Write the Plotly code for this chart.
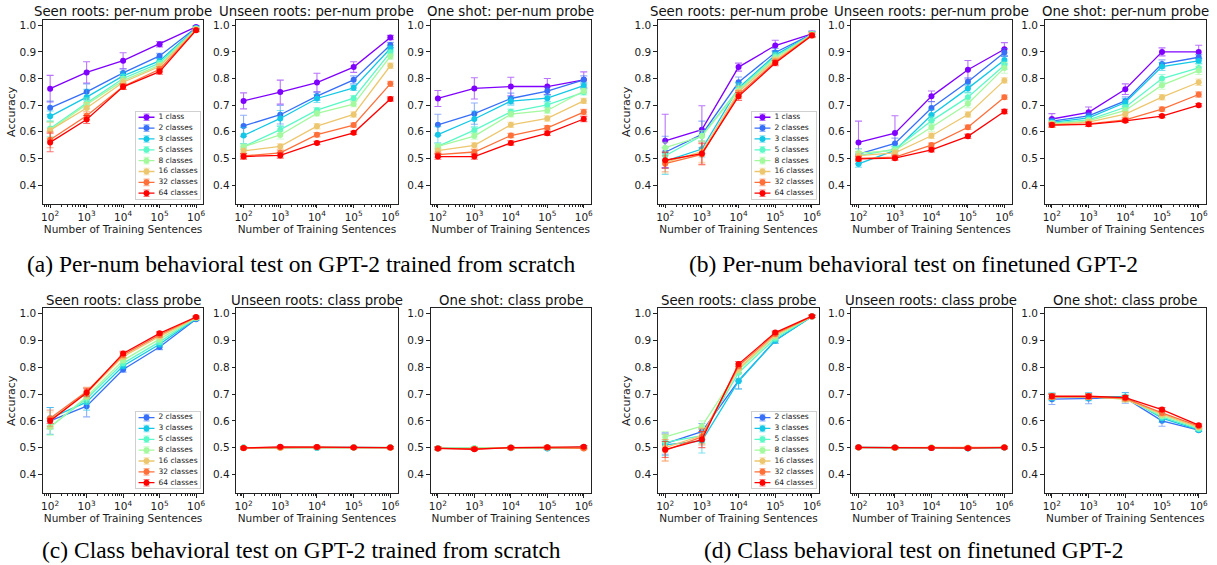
import plotly.graph_objects as go

W, H = 1217, 565

# ---------------- data ----------------
x_sent = [1e2, 1e3, 1e4, 1e5, 1e6]
xtick_text = ["10<sup>2</sup>", "10<sup>3</sup>", "10<sup>4</sup>", "10<sup>5</sup>", "10<sup>6</sup>"]
ytick_vals = [0.4, 0.5, 0.6, 0.7, 0.8, 0.9, 1.0]

labels_pernum = ["1 class", "2 classes", "3 classes", "5 classes", "8 classes",
                 "16 classes", "32 classes", "64 classes"]
labels_class = labels_pernum[1:]

# matplotlib "rainbow" colormap sampled at 8 points
colors_pernum = ["#8000ff", "#376ff9", "#12c8e6", "#5bf9c7", "#a4f99f",
                 "#edc76f", "#ff6f39", "#ff0000"]
colors_class = colors_pernum[1:]

titles_pernum = ["Seen roots: per-num probe", "Unseen roots: per-num probe", "One shot: per-num probe"]
titles_class = ["Seen roots: class probe", "Unseen roots: class probe", "One shot: class probe"]

captions = ["(a) Per-num behavioral test on GPT-2 trained from scratch",
            "(b) Per-num behavioral test on finetuned GPT-2",
            "(c) Class behavioral test on GPT-2 trained from scratch",
            "(d) Class behavioral test on finetuned GPT-2"]

# (a) per-num, scratch
a_seen = [[0.762, 0.823, 0.867, 0.929, 0.994],
          [0.690, 0.750, 0.821, 0.885, 0.991],
          [0.658, 0.730, 0.810, 0.866, 0.989],
          [0.612, 0.708, 0.800, 0.858, 0.988],
          [0.607, 0.703, 0.792, 0.850, 0.986],
          [0.606, 0.689, 0.786, 0.845, 0.985],
          [0.570, 0.660, 0.770, 0.835, 0.982],
          [0.560, 0.646, 0.769, 0.826, 0.981]]
a_seen_err = [[0.050, 0.040, 0.030, 0.010, 0.005],
              [0.025, 0.030, 0.015, 0.010, 0.005],
              [0.020, 0.030, 0.015, 0.010, 0.005],
              [0.030, 0.020, 0.015, 0.010, 0.005],
              [0.030, 0.020, 0.015, 0.010, 0.005],
              [0.030, 0.020, 0.015, 0.010, 0.005],
              [0.030, 0.015, 0.010, 0.010, 0.005],
              [0.035, 0.015, 0.010, 0.010, 0.005]]
a_unseen = [[0.716, 0.749, 0.785, 0.843, 0.954],
            [0.622, 0.664, 0.734, 0.795, 0.926],
            [0.586, 0.650, 0.725, 0.765, 0.913],
            [0.544, 0.608, 0.681, 0.726, 0.898],
            [0.544, 0.588, 0.669, 0.704, 0.883],
            [0.528, 0.545, 0.621, 0.665, 0.848],
            [0.509, 0.521, 0.589, 0.625, 0.780],
            [0.507, 0.511, 0.558, 0.596, 0.723]]
a_unseen_err = [[0.030, 0.045, 0.035, 0.020, 0.008],
                [0.040, 0.035, 0.015, 0.015, 0.010],
                [0.030, 0.030, 0.015, 0.010, 0.010],
                [0.010, 0.015, 0.010, 0.010, 0.010],
                [0.010, 0.015, 0.010, 0.010, 0.010],
                [0.010, 0.010, 0.010, 0.010, 0.010],
                [0.010, 0.010, 0.008, 0.008, 0.010],
                [0.010, 0.010, 0.006, 0.006, 0.008]]
a_oneshot = [[0.725, 0.763, 0.770, 0.770, 0.795],
             [0.626, 0.668, 0.725, 0.753, 0.795],
             [0.589, 0.648, 0.715, 0.726, 0.773],
             [0.545, 0.606, 0.675, 0.701, 0.748],
             [0.545, 0.584, 0.666, 0.680, 0.753],
             [0.529, 0.549, 0.626, 0.650, 0.716],
             [0.514, 0.524, 0.586, 0.615, 0.674],
             [0.507, 0.507, 0.558, 0.594, 0.648]]
a_oneshot_err = [[0.030, 0.040, 0.035, 0.030, 0.030],
                 [0.040, 0.040, 0.020, 0.015, 0.015],
                 [0.030, 0.030, 0.015, 0.012, 0.012],
                 [0.010, 0.012, 0.010, 0.010, 0.010],
                 [0.010, 0.012, 0.010, 0.010, 0.010],
                 [0.010, 0.010, 0.010, 0.010, 0.010],
                 [0.010, 0.010, 0.008, 0.008, 0.010],
                 [0.010, 0.010, 0.008, 0.008, 0.010]]

# (b) per-num, finetuned
b_seen = [[0.566, 0.608, 0.843, 0.924, 0.968],
          [0.523, 0.590, 0.786, 0.898, 0.967],
          [0.490, 0.535, 0.765, 0.888, 0.966],
          [0.510, 0.585, 0.760, 0.882, 0.966],
          [0.540, 0.583, 0.755, 0.877, 0.965],
          [0.485, 0.525, 0.750, 0.870, 0.964],
          [0.480, 0.515, 0.740, 0.863, 0.963],
          [0.493, 0.518, 0.733, 0.858, 0.962]]
b_seen_err = [[0.100, 0.090, 0.015, 0.020, 0.010],
              [0.060, 0.050, 0.020, 0.015, 0.010],
              [0.050, 0.030, 0.020, 0.015, 0.010],
              [0.030, 0.020, 0.020, 0.015, 0.010],
              [0.020, 0.020, 0.020, 0.015, 0.010],
              [0.040, 0.040, 0.020, 0.010, 0.010],
              [0.030, 0.040, 0.015, 0.010, 0.010],
              [0.030, 0.040, 0.015, 0.010, 0.005]]
b_unseen = [[0.560, 0.595, 0.733, 0.833, 0.910],
            [0.516, 0.556, 0.689, 0.788, 0.898],
            [0.479, 0.530, 0.663, 0.763, 0.870],
            [0.510, 0.535, 0.641, 0.730, 0.850],
            [0.520, 0.530, 0.617, 0.705, 0.840],
            [0.510, 0.521, 0.585, 0.665, 0.793],
            [0.500, 0.505, 0.550, 0.617, 0.730],
            [0.498, 0.501, 0.532, 0.583, 0.676]]
b_unseen_err = [[0.080, 0.065, 0.020, 0.035, 0.025],
                [0.020, 0.020, 0.025, 0.015, 0.015],
                [0.012, 0.015, 0.020, 0.015, 0.015],
                [0.015, 0.010, 0.015, 0.015, 0.015],
                [0.015, 0.010, 0.015, 0.015, 0.020],
                [0.015, 0.010, 0.010, 0.010, 0.010],
                [0.010, 0.008, 0.008, 0.008, 0.008],
                [0.008, 0.008, 0.008, 0.008, 0.008]]
b_oneshot = [[0.648, 0.673, 0.760, 0.900, 0.900],
             [0.640, 0.660, 0.716, 0.855, 0.880],
             [0.635, 0.652, 0.710, 0.845, 0.866],
             [0.632, 0.645, 0.692, 0.800, 0.840],
             [0.630, 0.641, 0.680, 0.775, 0.830],
             [0.628, 0.636, 0.666, 0.730, 0.786],
             [0.626, 0.630, 0.645, 0.685, 0.740],
             [0.625, 0.628, 0.641, 0.659, 0.700]]
b_oneshot_err = [[0.020, 0.020, 0.020, 0.015, 0.025],
                 [0.010, 0.010, 0.015, 0.015, 0.010],
                 [0.010, 0.010, 0.015, 0.015, 0.010],
                 [0.010, 0.010, 0.010, 0.015, 0.015],
                 [0.010, 0.010, 0.010, 0.015, 0.015],
                 [0.010, 0.010, 0.010, 0.010, 0.012],
                 [0.008, 0.008, 0.008, 0.008, 0.010],
                 [0.008, 0.008, 0.006, 0.006, 0.006]]

# (c) class, scratch
c_seen = [[0.600, 0.655, 0.792, 0.876, 0.980],
          [0.610, 0.670, 0.805, 0.886, 0.982],
          [0.578, 0.683, 0.815, 0.895, 0.984],
          [0.576, 0.690, 0.826, 0.905, 0.985],
          [0.603, 0.703, 0.840, 0.915, 0.986],
          [0.610, 0.710, 0.846, 0.921, 0.987],
          [0.600, 0.705, 0.852, 0.927, 0.988]]
c_seen_err = [[0.050, 0.040, 0.010, 0.010, 0.005],
              [0.040, 0.030, 0.010, 0.010, 0.005],
              [0.030, 0.020, 0.010, 0.010, 0.005],
              [0.030, 0.020, 0.010, 0.010, 0.005],
              [0.030, 0.020, 0.010, 0.008, 0.004],
              [0.030, 0.015, 0.010, 0.008, 0.004],
              [0.010, 0.015, 0.008, 0.006, 0.004]]
c_unseen = [[0.500, 0.501, 0.500, 0.501, 0.500],
            [0.499, 0.500, 0.499, 0.500, 0.500],
            [0.500, 0.501, 0.501, 0.500, 0.500],
            [0.500, 0.500, 0.501, 0.501, 0.501],
            [0.499, 0.499, 0.501, 0.500, 0.499],
            [0.498, 0.500, 0.502, 0.500, 0.500],
            [0.499, 0.503, 0.502, 0.500, 0.500]]
c_unseen_err = [[0.004, 0.004, 0.004, 0.004, 0.004]] * 7
c_oneshot = [[0.498, 0.497, 0.499, 0.498, 0.502],
             [0.497, 0.497, 0.498, 0.497, 0.501],
             [0.498, 0.498, 0.500, 0.500, 0.500],
             [0.498, 0.498, 0.500, 0.501, 0.501],
             [0.497, 0.496, 0.499, 0.500, 0.498],
             [0.497, 0.495, 0.499, 0.500, 0.497],
             [0.497, 0.494, 0.500, 0.501, 0.503]]
c_oneshot_err = [[0.005, 0.005, 0.005, 0.005, 0.005]] * 7

# (d) class, finetuned
d_seen = [[0.515, 0.560, 0.750, 0.900, 0.990],
          [0.510, 0.525, 0.748, 0.900, 0.990],
          [0.520, 0.545, 0.780, 0.908, 0.990],
          [0.540, 0.580, 0.790, 0.915, 0.990],
          [0.500, 0.545, 0.795, 0.920, 0.990],
          [0.490, 0.540, 0.805, 0.925, 0.990],
          [0.493, 0.530, 0.812, 0.930, 0.991]]
d_seen_err = [[0.040, 0.030, 0.030, 0.010, 0.004],
              [0.040, 0.045, 0.030, 0.010, 0.004],
              [0.030, 0.030, 0.020, 0.010, 0.004],
              [0.020, 0.020, 0.015, 0.010, 0.004],
              [0.050, 0.030, 0.015, 0.010, 0.004],
              [0.040, 0.030, 0.010, 0.008, 0.004],
              [0.030, 0.030, 0.010, 0.006, 0.004]]
d_unseen = [[0.501, 0.500, 0.499, 0.498, 0.500],
            [0.500, 0.499, 0.499, 0.497, 0.500],
            [0.501, 0.500, 0.500, 0.498, 0.500],
            [0.501, 0.500, 0.500, 0.499, 0.501],
            [0.500, 0.499, 0.500, 0.500, 0.500],
            [0.500, 0.500, 0.499, 0.499, 0.501],
            [0.501, 0.500, 0.499, 0.498, 0.500]]
d_unseen_err = [[0.004, 0.004, 0.004, 0.004, 0.004]] * 7
d_oneshot = [[0.681, 0.684, 0.686, 0.600, 0.565],
             [0.690, 0.690, 0.690, 0.610, 0.566],
             [0.690, 0.690, 0.686, 0.615, 0.570],
             [0.690, 0.690, 0.681, 0.620, 0.574],
             [0.690, 0.690, 0.681, 0.625, 0.576],
             [0.690, 0.690, 0.684, 0.630, 0.580],
             [0.692, 0.692, 0.687, 0.642, 0.584]]
d_oneshot_err = [[0.020, 0.020, 0.020, 0.020, 0.005],
                 [0.015, 0.015, 0.015, 0.015, 0.005],
                 [0.012, 0.012, 0.012, 0.012, 0.005],
                 [0.010, 0.010, 0.010, 0.010, 0.005],
                 [0.010, 0.010, 0.010, 0.010, 0.005],
                 [0.010, 0.010, 0.010, 0.010, 0.005],
                 [0.008, 0.008, 0.008, 0.008, 0.005]]

panels = [
    dict(series=[(a_seen, a_seen_err), (a_unseen, a_unseen_err), (a_oneshot, a_oneshot_err)],
         labels=labels_pernum, colors=colors_pernum, titles=titles_pernum),
    dict(series=[(b_seen, b_seen_err), (b_unseen, b_unseen_err), (b_oneshot, b_oneshot_err)],
         labels=labels_pernum, colors=colors_pernum, titles=titles_pernum),
    dict(series=[(c_seen, c_seen_err), (c_unseen, c_unseen_err), (c_oneshot, c_oneshot_err)],
         labels=labels_class, colors=colors_class, titles=titles_class),
    dict(series=[(d_seen, d_seen_err), (d_unseen, d_unseen_err), (d_oneshot, d_oneshot_err)],
         labels=labels_class, colors=colors_class, titles=titles_class),
]

# ---------------- layout geometry (pixels) ----------------
col_left = [[41, 235, 430], [658, 852, 1046]]
col_right = [[202, 397, 591], [820, 1013, 1208]]
row_top = [19, 308]
row_bottom = [203, 493]
caption_x = [300, 915]
caption_y = [263, 550]

FONT = "DejaVu Sans"
TXT = "#1a1a1a"


def px_x(v):
    return v / W


def px_y(v):
    return 1 - v / H


def rgba(hexc, a):
    h = hexc.lstrip("#")
    return "rgba(%d,%d,%d,%.2f)" % (int(h[0:2], 16), int(h[2:4], 16), int(h[4:6], 16), a)


minor_vals = [k * 10 ** d for d in range(1, 7) for k in range(2, 10)]

fig = go.Figure()
layout = dict(width=W, height=H, margin=dict(l=0, r=0, t=0, b=0),
              paper_bgcolor="white", plot_bgcolor="white", showlegend=False,
              font=dict(family=FONT, color=TXT))
annotations = []
shapes = []

for p, panel in enumerate(panels):
    prow, pcol = p // 2, p % 2
    for s in range(3):
        idx = p * 3 + s + 1
        xa, ya = "x%d" % idx, "y%d" % idx
        means, errs = panel["series"][s]
        for k, (m, e) in enumerate(zip(means, errs)):
            c = panel["colors"][k]
            fig.add_trace(go.Scatter(
                x=x_sent, y=m, mode="lines+markers", xaxis=xa, yaxis=ya,
                line=dict(color=c, width=1.3),
                marker=dict(color=c, size=6),
                error_y=dict(type="data", array=e, color=rgba(c, 0.55), thickness=1.1, width=3.5),
                name=panel["labels"][k], showlegend=False))
        l, r = col_left[pcol][s], col_right[pcol][s]
        t, b = row_top[prow], row_bottom[prow]
        layout["xaxis%d" % idx] = dict(
            type="log", range=[1.8, 6.2], domain=[px_x(l), px_x(r)], anchor=ya,
            showline=True, mirror=True, linecolor="#222", linewidth=1,
            ticks="outside", ticklen=3.5, tickwidth=1, tickcolor="#222",
            tickvals=x_sent, ticktext=xtick_text, tickfont=dict(size=10.5, family=FONT, color=TXT),
            minor=dict(tickvals=minor_vals, ticks="outside", ticklen=2, tickwidth=0.7, tickcolor="#222"),
            showgrid=False, zeroline=False, fixedrange=True,
            title=dict(text="Number of Training Sentences", font=dict(size=10.5, family=FONT, color=TXT),
                       standoff=0))
        yax = dict(
            range=[0.33, 1.02], domain=[px_y(b), px_y(t)], anchor=xa,
            showline=True, mirror=True, linecolor="#222", linewidth=1,
            ticks="outside", ticklen=3.5, tickwidth=1, tickcolor="#222",
            tickvals=ytick_vals, tickformat=".1f", tickfont=dict(size=10.5, family=FONT, color=TXT),
            showgrid=False, zeroline=False, fixedrange=True)
        if s == 0:
            yax["title"] = dict(text="Accuracy", font=dict(size=11, family=FONT, color=TXT), standoff=1)
        layout["yaxis%d" % idx] = yax
        annotations.append(dict(text=panel["titles"][s], x=px_x((l + r) / 2), y=px_y(t - 8),
                                xref="paper", yref="paper", showarrow=False, xanchor="center",
                                yanchor="middle", font=dict(size=13.3, family=FONT, color="#111")))

    # custom legend inside the first subplot of the panel
    n = len(panel["labels"])
    lidx = 13 + p
    r0 = col_right[pcol][0] - 3
    l0 = r0 - 65
    b0 = row_bottom[prow] - 5
    t0 = b0 - 10.875 * n
    lx, ly = "x%d" % lidx, "y%d" % lidx
    layout["xaxis%d" % lidx] = dict(domain=[px_x(l0), px_x(r0)], range=[0, 65], anchor=ly,
                                    showline=True, mirror=True, linecolor="#d0d0d0", linewidth=1,
                                    showticklabels=False, ticks="", showgrid=False, zeroline=False,
                                    fixedrange=True)
    layout["yaxis%d" % lidx] = dict(domain=[px_y(b0), px_y(t0)], range=[n - 0.5, -0.5], anchor=lx,
                                    showline=True, mirror=True, linecolor="#d0d0d0", linewidth=1,
                                    showticklabels=False, ticks="", showgrid=False, zeroline=False,
                                    fixedrange=True)
    shapes.append(dict(type="rect", xref=lx, yref=ly, x0=0, x1=65, y0=-0.5, y1=n - 0.5,
                       fillcolor="rgba(255,255,255,0.85)", line=dict(width=0), layer="below"))
    for k in range(n):
        c = panel["colors"][k]
        fig.add_trace(go.Scatter(x=[3, 19], y=[k, k], mode="lines", xaxis=lx, yaxis=ly,
                                 line=dict(color=c, width=1.3), showlegend=False, hoverinfo="skip"))
        fig.add_trace(go.Scatter(x=[11], y=[k], mode="markers", xaxis=lx, yaxis=ly,
                                 marker=dict(color=c, size=6),
                                 error_y=dict(type="data", array=[0.3], color=rgba(c, 0.55),
                                              thickness=1.1, width=3),
                                 showlegend=False, hoverinfo="skip"))
    fig.add_trace(go.Scatter(x=[23] * n, y=list(range(n)), mode="text", text=panel["labels"],
                             textposition="middle right", xaxis=lx, yaxis=ly,
                             textfont=dict(size=7.5, family=FONT, color=TXT),
                             showlegend=False, hoverinfo="skip"))

    annotations.append(dict(text=captions[p], x=px_x(caption_x[pcol]), y=px_y(caption_y[prow]),
                            xref="paper", yref="paper", showarrow=False, xanchor="center",
                            yanchor="middle", font=dict(size=23.5, family="Liberation Serif", color="#000")))

layout["annotations"] = annotations
layout["shapes"] = shapes
fig.update_layout(**layout)
fig.write_html("out.html")
